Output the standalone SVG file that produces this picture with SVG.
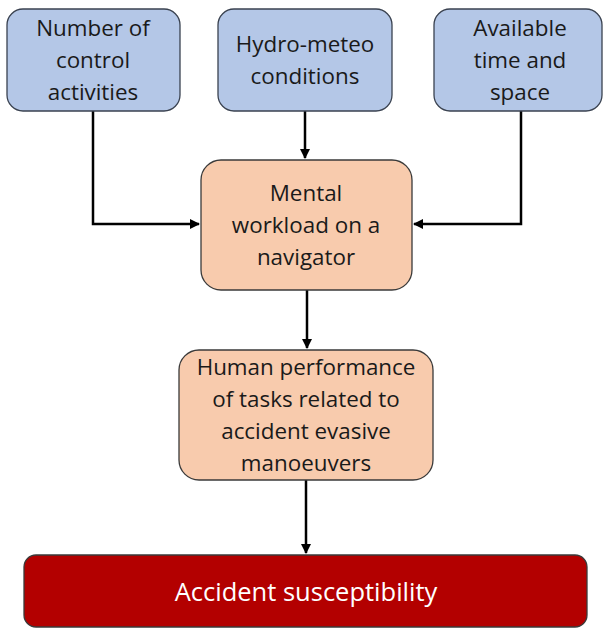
<svg xmlns="http://www.w3.org/2000/svg" width="603" height="628" viewBox="0 0 603 628">
<defs>
<marker id="arr" markerWidth="10" markerHeight="10" refX="9" refY="5" orient="auto" markerUnits="userSpaceOnUse"><path d="M0,0 L10,5 L0,10 Z" fill="#000"/></marker>
<style>
.blue{fill:#b4c7e7;stroke:#3a4250;stroke-width:1.3}
.orange{fill:#f8cbad;stroke:#3a3a3a;stroke-width:1.3}
.red{fill:#b30000;stroke:#3a3a3a;stroke-width:1.3}
.t{font-family:"Open Sans","Liberation Sans",sans-serif;font-size:22.4px;fill:#1a1a1a;text-anchor:middle}
.w{font-family:"Open Sans","Liberation Sans",sans-serif;font-size:25.5px;fill:#ffffff;text-anchor:middle}
.c{fill:none;stroke:#000;stroke-width:2.5}
</style>
</defs>
<g id="connectors">
<path class="c" d="M93,111 V224 H199" marker-end="url(#arr)"/>
<path class="c" d="M305,111 V158" marker-end="url(#arr)"/>
<path class="c" d="M521,111 V224 H414" marker-end="url(#arr)"/>
<path class="c" d="M307,290 V348" marker-end="url(#arr)"/>
<path class="c" d="M306,480 V553" marker-end="url(#arr)"/>
</g>
<g id="n1"><rect class="blue" x="7" y="9" width="173" height="102" rx="16"/>
<text class="t" x="93" y="36">Number of</text><text class="t" x="93" y="68">control</text><text class="t" x="93" y="100">activities</text></g>
<g id="n2"><rect class="blue" x="218" y="9" width="174" height="102" rx="16"/>
<text class="t" x="305" y="52">Hydro-meteo</text><text class="t" x="305" y="84">conditions</text></g>
<g id="n3"><rect class="blue" x="434" y="9" width="168" height="102" rx="16"/>
<text class="t" x="520" y="36">Available</text><text class="t" x="520" y="68">time and</text><text class="t" x="520" y="100">space</text></g>
<g id="n4"><rect class="orange" x="201" y="160" width="211" height="130" rx="20"/>
<text class="t" x="306" y="201">Mental</text><text class="t" x="306" y="233">workload on a</text><text class="t" x="306" y="265">navigator</text></g>
<g id="n5"><rect class="orange" x="179" y="350" width="254" height="130" rx="20"/>
<text class="t" x="306" y="375">Human performance</text><text class="t" x="306" y="407">of tasks related to</text><text class="t" x="306" y="439">accident evasive</text><text class="t" x="306" y="471">manoeuvers</text></g>
<g id="n6"><rect class="red" x="24" y="555" width="563" height="72" rx="12"/>
<text class="w" x="306" y="601">Accident susceptibility</text></g>
</svg>
